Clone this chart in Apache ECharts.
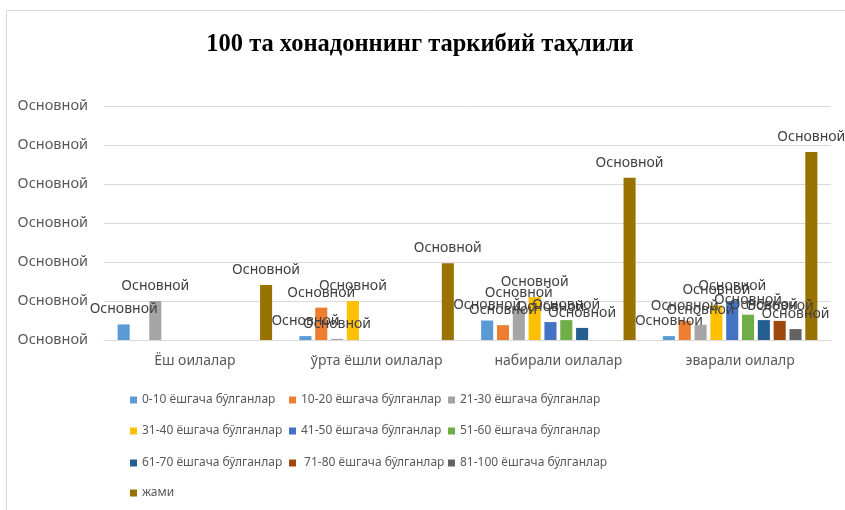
<!DOCTYPE html>
<html lang="uz">
<head>
    <meta charset="UTF-8">
    <title>100 та хонадоннинг таркибий таҳлили</title>
    <style>
        html, body { margin: 0; padding: 0; background: #fff; }
    </style>
</head>
<body>
    <div id="main" style="width: 845px;height:510px;"></div>
</body>
<script src="https://cdn.jsdelivr.net/npm/echarts@6/dist/echarts.min.js"></script>
<script type="text/javascript">
    // категориялар
    var categories = ['Ёш оилалар', 'ўрта ёшли оилалар', 'набирали оилалар', 'эварали оилалр'];
    // серия номлари
    var seriesNames = [
        '0-10 ёшгача бўлганлар', '10-20 ёшгача бўлганлар', '21-30 ёшгача бўлганлар',
        '31-40 ёшгача бўлганлар', '41-50 ёшгача бўлганлар', '51-60 ёшгача бўлганлар',
        '61-70 ёшгача бўлганлар', ' 71-80 ёшгача бўлганлар', '81-100 ёшгача бўлганлар',
        'жами'
    ];
    // қийматлар (null - бўш катак)
    var age0_10   = [4, 1, 5, 1];
    var age10_20  = [null, 8.3, 3.8, 4.9];
    var age21_30  = [10, 0.3, 8.1, 3.9];
    var age31_40  = [null, 10, 11, 8.9];
    var age41_50  = [null, null, 4.6, 10];
    var age51_60  = [null, null, 5.1, 6.5];
    var age61_70  = [null, null, 3.1, 5.1];
    var age71_80  = [null, null, null, 4.9];
    var age81_100 = [null, null, null, 2.8];
    var jami      = [14.1, 19.7, 41.6, 48.2];
    var yTicks = [0, 10, 20, 30, 40, 50, 60];

    var seriesData = [age0_10, age10_20, age21_30, age31_40, age41_50, age51_60, age61_70, age71_80, age81_100, jami];
    var colors = ['#5B9BD5', '#ED7D31', '#A5A5A5', '#FFC000', '#4472C4', '#70AD47', '#255E91', '#9E480E', '#636363', '#997300'];

    var font = 'Noto Sans';
    var series = seriesData.map(function (d, i) {
        return {
            name: seriesNames[i],
            type: 'bar',
            data: d,
            barGap: '31%',
            barCategoryGap: '15%',
            label: {
                show: true,
                position: 'top',
                distance: 8,
                formatter: function () { return 'Основной'; },
                color: '#404040',
                fontFamily: font,
                fontSize: 14
            }
        };
    });

    // легенда: ҳар бир элемент алоҳида, 3 устун
    var legendCols = [130, 289, 448];
    var legendTops = [392, 423, 455, 485];
    var legends = seriesNames.map(function (name, i) {
        return {
            data: [name],
            left: legendCols[i % 3],
            top: legendTops[Math.floor(i / 3)],
            padding: 0,
            itemWidth: 7,
            itemHeight: 7,
            icon: 'rect',
            selectedMode: false,
            textStyle: {
                lineHeight: 16,
                color: '#595959',
                fontFamily: font,
                fontSize: 12
            }
        };
    });

    var myChart = echarts.init(document.getElementById('main'));
    var option = {
        color: colors,
        animation: false,
        title: {
            text: '100 та хонадоннинг таркибий таҳлили',
            left: 415,
            textAlign: 'center',
            top: 27,
            textStyle: {
                fontFamily: 'Liberation Serif',
                fontWeight: 'bold',
                fontSize: 24.5,
                color: '#000'
            }
        },
        legend: legends,
        grid: {
            left: 104,
            right: 14,
            top: 106,
            bottom: 170,
            outerBoundsMode: 'none'
        },
        xAxis: {
            type: 'category',
            data: categories,
            axisLine: { lineStyle: { color: '#d9d9d9' } },
            axisTick: { show: false },
            axisLabel: {
                color: '#595959',
                fontFamily: font,
                fontSize: 14,
                margin: 14
            }
        },
        yAxis: {
            type: 'value',
            min: yTicks[0],
            max: yTicks[yTicks.length - 1],
            interval: 10,
            axisLine: { show: false },
            axisTick: { show: false },
            splitLine: { lineStyle: { color: '#d9d9d9' } },
            axisLabel: {
                formatter: function () { return 'Основной'; },
                color: '#595959',
                fontFamily: font,
                fontSize: 14.5,
                margin: 16
            }
        },
        graphic: [{
            type: 'rect',
            shape: { x: 6.5, y: 10.5, width: 900, height: 600 },
            style: { fill: 'none', stroke: '#d9d9d9', lineWidth: 1 },
            silent: true
        }],
        series: series
    };
    myChart.setOption(option);
</script>
</html>
